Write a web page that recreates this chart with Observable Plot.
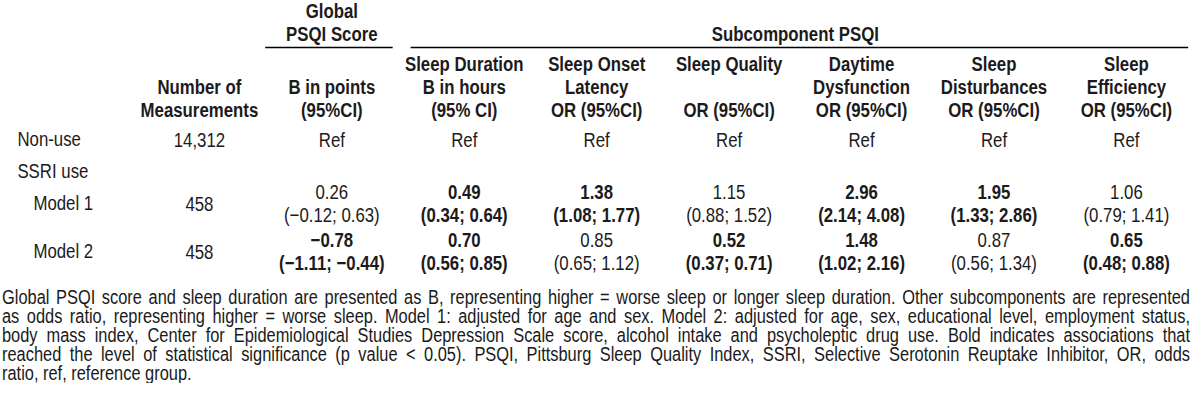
<!DOCTYPE html>
<html>
<head>
<meta charset="utf-8">
<script src="https://cdn.jsdelivr.net/npm/d3@7"></script>
<script src="https://cdn.jsdelivr.net/npm/@observablehq/plot@0.6"></script>
<style>
  html, body { margin: 0; padding: 0; background: #fff; overflow: hidden; }
  #wrap { width: 1200px; }
  #chart { width: 1200px; overflow: visible; }
  #chart svg { display: block; transform-origin: 0 0; max-width: none !important; }
  #foot { transform-origin: 0 0; color: #1a1a1a; }
  #foot div { white-space: nowrap; display: block; }
  #foot span { white-space: nowrap; }
</style>
</head>
<body>
<div id="wrap">
  <div id="chart"></div>
  <div id="foot"></div>
</div>
<script>
// ---------------- data ----------------
const rowLabels = ["Non-use", "SSRI use", "Model 1", "Model 2"];
const subRowLabels = ["Model 1", "Model 2"];

const columnKeys = ["N", "Global", "Duration", "Onset", "Quality", "Daytime", "Disturb", "Efficiency"];
const columnHeaders = [
  "Number of\nMeasurements",
  "B in points\n(95%CI)",
  "Sleep Duration\nB in hours\n(95% CI)",
  "Sleep Onset\nLatency\nOR (95%CI)",
  "Sleep Quality\n\nOR (95%CI)",
  "Daytime\nDysfunction\nOR (95%CI)",
  "Sleep\nDisturbances\nOR (95%CI)",
  "Sleep\nEfficiency\nOR (95%CI)"
];

const groupLabels = ["Global\nPSQI Score", "Subcomponent PSQI"];
const groupFirst = ["Global", "Duration"];
const groupLast = ["Global", "Efficiency"];

const measurementRows = ["Non-use", "Model 1", "Model 2"];
const measurements = ["14,312", "458", "458"];
const refLabel = "Ref";

const outcomeKeys = ["Global", "Duration", "Onset", "Quality", "Daytime", "Disturb", "Efficiency"];
const model1Est = [0.26, 0.49, 1.38, 1.15, 2.96, 1.95, 1.06];
const model1Lo  = [-0.12, 0.34, 1.08, 0.88, 2.14, 1.33, 0.79];
const model1Hi  = [0.63, 0.64, 1.77, 1.52, 4.08, 2.86, 1.41];
const model1Sig = [false, true, true, false, true, true, false];
const model2Est = [-0.78, 0.70, 0.85, 0.52, 1.48, 0.87, 0.65];
const model2Lo  = [-1.11, 0.56, 0.65, 0.37, 1.02, 0.56, 0.48];
const model2Hi  = [-0.44, 0.85, 1.12, 0.71, 2.16, 1.34, 0.88];
const model2Sig = [true, true, false, true, true, false, true];

const footnoteLines = [
  "Global PSQI score and sleep duration are presented as B, representing higher = worse sleep or longer sleep duration. Other subcomponents are represented",
  "as odds ratio, representing higher = worse sleep. Model 1: adjusted for age and sex. Model 2: adjusted for age, sex, educational level, employment status,",
  "body mass index, Center for Epidemiological Studies Depression Scale score, alcohol intake and psycholeptic drug use. Bold indicates associations that",
  "reached the level of statistical significance (p value < 0.05). PSQI, Pittsburg Sleep Quality Index, SSRI, Selective Serotonin Reuptake Inhibitor, OR, odds",
  "ratio, ref, reference group."
];

// ---------------- font ----------------
function hasFont(name) {
  const c = document.createElement("canvas").getContext("2d");
  const s = "abcdefghijklmnopqrstuvwxyzABCDEFGHIJKLMNOPQRSTUVWXYZ0123456789";
  c.font = "40px monospace";
  const w1 = c.measureText(s).width;
  c.font = `40px "${name}", monospace`;
  const w2 = c.measureText(s).width;
  return Math.abs(w1 - w2) > 0.5;
}
const narrow = hasFont("Liberation Sans Narrow");
const k = narrow ? 1 : 0.82; // horizontal condensation factor
const family = narrow ? '"Liberation Sans Narrow", "Arial Narrow", sans-serif' : '"Liberation Sans", Arial, sans-serif';
const fontSize = 20.5;
const ink = "#1c1a1b";

// ---------------- cells ----------------
const fmt = v => (v < 0 ? "\u2212" : "") + Math.abs(v).toFixed(2);
const colIndex = key => columnKeys.indexOf(key);
const cells = [];
measurementRows.forEach((r, i) => cells.push({row: r, col: colIndex("N"), text: measurements[i], bold: false}));
outcomeKeys.forEach(c => cells.push({row: "Non-use", col: colIndex(c), text: refLabel, bold: false}));
const models = [
  {row: "Model 1", est: model1Est, lo: model1Lo, hi: model1Hi, sig: model1Sig},
  {row: "Model 2", est: model2Est, lo: model2Lo, hi: model2Hi, sig: model2Sig}
];
for (const m of models) {
  outcomeKeys.forEach((c, j) => cells.push({
    row: m.row, col: colIndex(c),
    text: `${fmt(m.est[j])}\n(${fmt(m.lo[j])}; ${fmt(m.hi[j])})`,
    bold: m.sig[j]
  }));
}
const groups = groupLabels.map((label, i) => ({
  label, first: colIndex(groupFirst[i]), last: colIndex(groupLast[i])
}));
const rowLabelData = rowLabels.map(r => ({row: r, sub: subRowLabels.includes(r)}));

// y domain: table rows with blank spacer slots between them (row gaps)
const rowGapsAfter = [1, 1, 2, 0];
const yDomain = rowLabels.flatMap((r, i) => [r, ...d3.range(rowGapsAfter[i]).map(g => `gap-${i}-${g}`)]);

// ---------------- plot ----------------
const W = 1200 / k;
const H = 285;
const mTop = 125, mBottom = 10;
const ruleCenter = (mTop + H - mBottom) / 2;
const lh = 1.12;

const plot = Plot.plot({
  width: W,
  height: H,
  marginTop: mTop,
  marginBottom: mBottom,
  marginLeft: 0,
  marginRight: 0,
  style: {fontFamily: family, fontSize: fontSize + "px", color: ink, background: "#fff", overflow: "visible", maxWidth: "none"},
  x: {type: "linear", domain: [0, columnKeys.length - 1], range: [199 / k, 1126 / k], axis: null},
  y: {type: "point", domain: yDomain, range: [139, 251], padding: 0, axis: null},
  marks: [
    Plot.axisX({
      anchor: "top",
      ticks: d3.range(columnKeys.length),
      tickFormat: i => columnHeaders[i],
      tickSize: 0,
      tickPadding: 9,
      fontWeight: "bold",
      lineHeight: lh,
      label: null
    }),
    Plot.text(groups, {
      x: d => (d.first + d.last) / 2,
      text: "label",
      frameAnchor: "top",
      lineAnchor: "bottom",
      dy: -85,
      fontWeight: "bold",
      lineHeight: lh
    }),
    Plot.ruleY(groups.slice(0, 1), {
      x1: d => d.first - 0.5, x2: d => d.last + 0.5, y: null,
      dy: 47 - ruleCenter, insetLeft: 0, insetRight: 5 / k,
      stroke: "#000", strokeWidth: 1.4
    }),
    Plot.ruleY(groups.slice(1), {
      x1: d => d.first - 0.5, x2: d => d.last + 0.5, y: null,
      dy: 47 - ruleCenter, insetLeft: 13 / k, insetRight: 4 / k,
      stroke: "#000", strokeWidth: 1.4
    }),
    Plot.text(rowLabelData.filter(d => !d.sub), {
      y: "row", text: "row", frameAnchor: "left", textAnchor: "start", dx: 17 / k
    }),
    Plot.text(rowLabelData.filter(d => d.sub), {
      y: "row", text: "row", frameAnchor: "left", textAnchor: "start", dx: 33 / k
    }),
    Plot.text(cells.filter(d => !d.bold), {
      x: "col", y: "row", text: "text", lineAnchor: "middle", lineHeight: 1.1
    }),
    Plot.text(cells.filter(d => d.bold), {
      x: "col", y: "row", text: "text", lineAnchor: "middle", lineHeight: 1.1, fontWeight: "bold"
    })
  ]
});
plot.style.maxWidth = "none";
plot.style.width = W + "px";
plot.style.height = H + "px";
if (k !== 1) plot.style.transform = `scaleX(${k})`;
document.getElementById("chart").appendChild(plot);

// ---------------- footnote ----------------
const foot = document.getElementById("foot");
foot.style.fontFamily = family;
foot.style.fontSize = "20px";
foot.style.lineHeight = "19px";
foot.style.width = (1200 / k) + "px";
foot.style.marginTop = "3px";
foot.style.paddingLeft = (2 / k) + "px";
if (k !== 1) foot.style.transform = `scaleX(${k})`;
const target = 1188 / k;
footnoteLines.forEach((line, i) => {
  const div = document.createElement("div");
  div.style.height = "19px";
  const span = document.createElement("span");
  span.textContent = line;
  div.appendChild(span);
  foot.appendChild(div);
  if (i < footnoteLines.length - 1) {
    const natural = span.getBoundingClientRect().width / k;
    const spaces = (line.match(/ /g) || []).length;
    span.style.wordSpacing = ((target - natural) / spaces) + "px";
  }
});
</script>
</body>
</html>
